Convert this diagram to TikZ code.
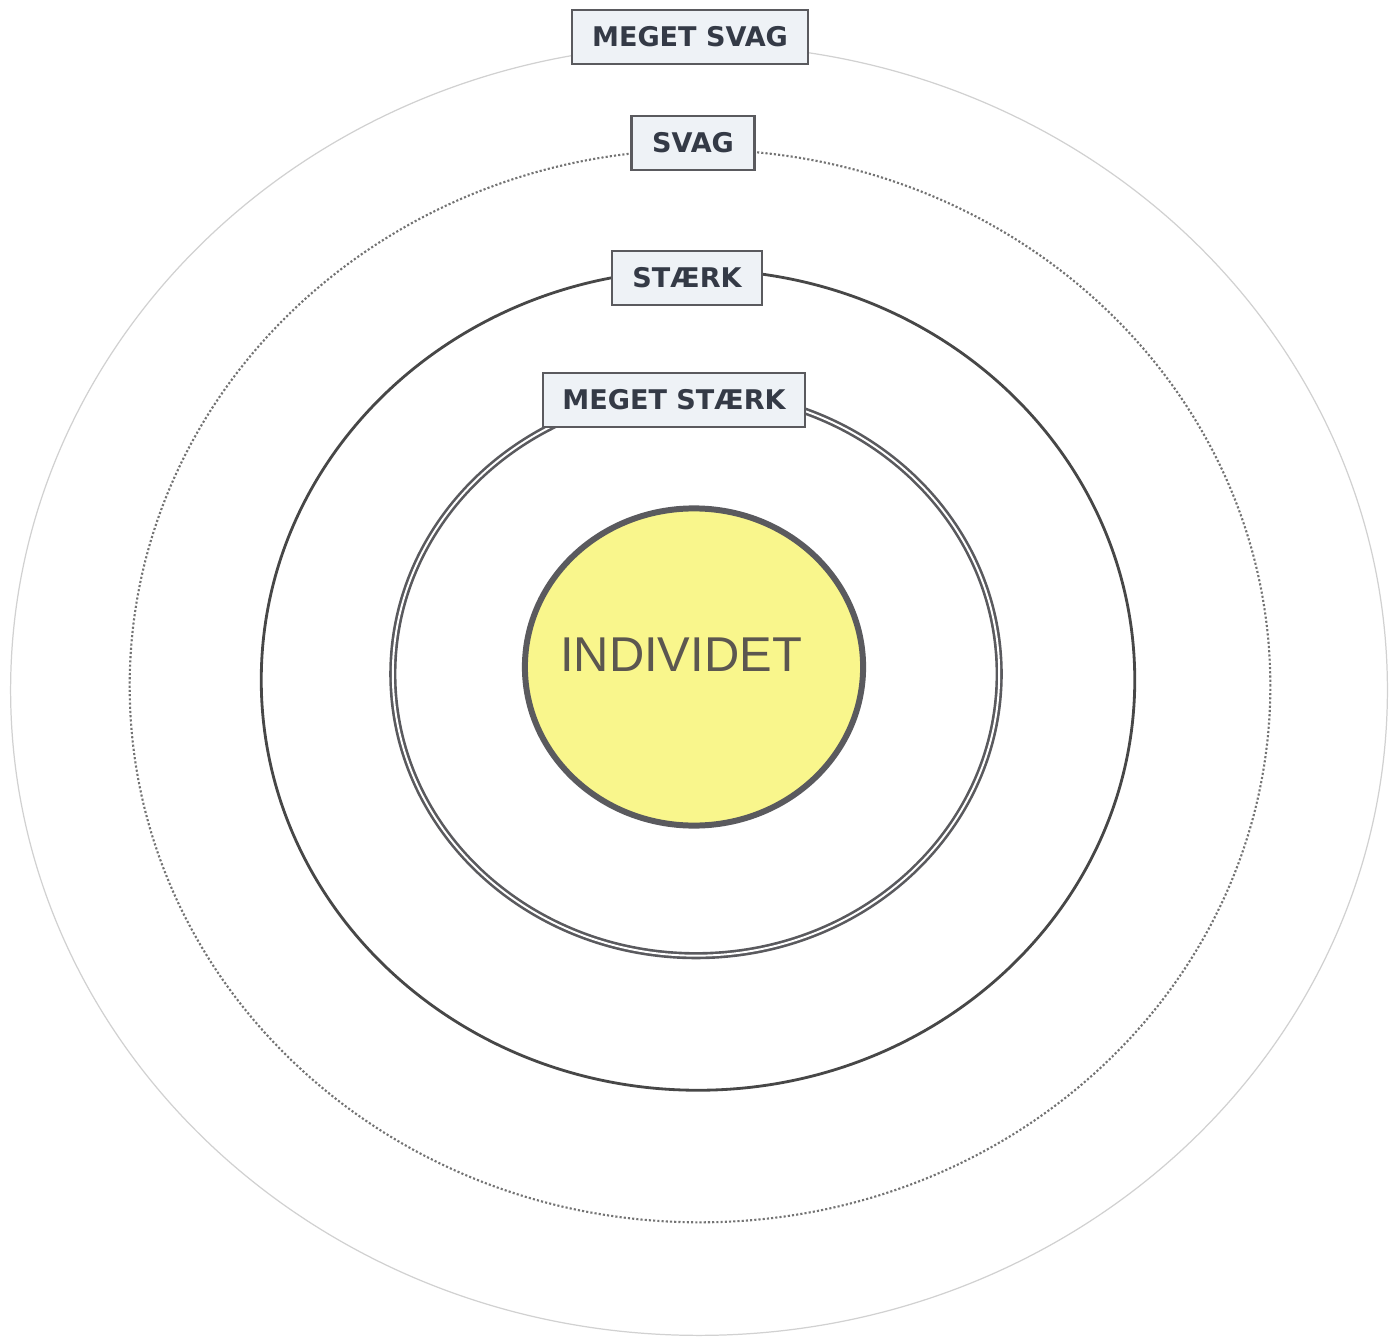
\documentclass[tikz,border=0pt]{standalone}
\usepackage{fontspec}
\setmainfont{Liberation Sans}
\newfontfamily\labelfont{DejaVu Sans}
\usetikzlibrary{shapes.geometric}

\definecolor{boxfill}{HTML}{EEF2F6}
\definecolor{boxtext}{HTML}{343A46}
\definecolor{ringgray}{HTML}{5A5A5E}
\definecolor{sunyellow}{HTML}{F9F68C}
\definecolor{selftext}{HTML}{5C5750}

\tikzset{
  ring/.style={ellipse, inner sep=0pt, fill=none},
  levelbox/.style={draw=ringgray, line width=0.7pt, fill=boxfill, text=boxtext,
    font=\labelfont\bfseries\fontsize{7.7}{9}\selectfont,
    minimum height=0.54cm, inner sep=0pt}
}

\begin{document}
\begin{tikzpicture}[x=0.01cm, y=-0.01cm]
        \useasboundingbox (0,0) rectangle (1398,1337);
        % rings, outermost first
        \node[ring, draw=black!18, line width=0.35pt, minimum width=13.76cm, minimum height=12.9cm] (vweak) at (699,690) {};
        \node[ring, draw=black!55, line width=0.6pt, dash pattern=on 0.6pt off 0.6pt, minimum width=11.4cm, minimum height=10.72cm] (weak) at (700,686) {};
        \node[ring, draw=black!72, line width=0.8pt, minimum width=8.73cm, minimum height=8.2cm] (strong) at (698,680) {};
        \node[ring, draw=ringgray, double=white, double distance=0.55pt, line width=0.75pt, minimum width=6.06cm, minimum height=5.63cm] (vstrong) at (696,674) {};
        % the individual
        \node[ring, draw=ringgray, line width=1.7pt, fill=sunyellow, minimum width=3.38cm, minimum height=3.17cm] (self) at (694,667) {};
        \node[text=selftext, font=\fontsize{13.9}{16}\selectfont] (selflbl) at (681,655) {INDIVIDET};
        % labels
        \node[levelbox, minimum width=2.36cm] (vweaklbl) at (690,37) {MEGET SVAG};
        \node[levelbox, minimum width=1.23cm] (weaklbl) at (693,143) {SVAG};
        \node[levelbox, minimum width=1.50cm] (stronglbl) at (687,278) {STÆRK};
        \node[levelbox, minimum width=2.62cm] (vstronglbl) at (674,400) {MEGET STÆRK};
      \end{tikzpicture}
\end{document}
